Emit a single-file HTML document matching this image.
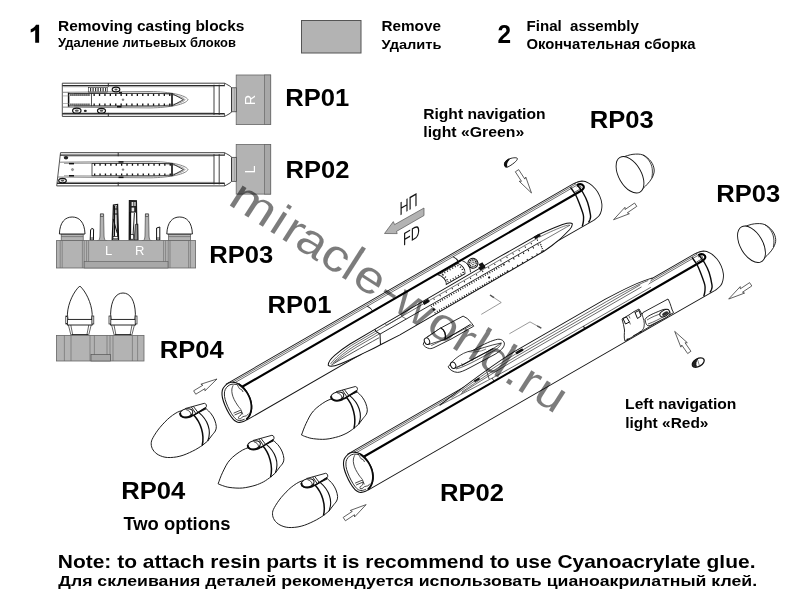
<!DOCTYPE html>
<html><head><meta charset="utf-8"><title>Assembly instructions</title>
<style>
html,body{margin:0;padding:0;background:#fff;}
body{width:800px;height:600px;overflow:hidden;font-family:"Liberation Sans",sans-serif;}
svg{display:block;font-family:"Liberation Sans",sans-serif;filter:grayscale(1);}
</style></head><body>
<svg width="800" height="600" viewBox="0 0 800 600">
<rect width="800" height="600" fill="#fff"/>
<path d="M39.1,24.7 L36,24.7 C35,26.8 32.8,28.5 30.7,29.3 L30.7,32.5 C32.6,31.9 34.2,30.9 35.2,29.9 L35.2,42.75 L39.1,42.75 Z" fill="#000" stroke="none" stroke-width="0" />
<text transform="translate(58.00,31.30) scale(1.0109,1)" font-size="15.3" font-weight="bold" fill="#000" xml:space="preserve">Removing casting blocks</text>
<text transform="translate(58.00,47.10) scale(0.9673,1)" font-size="13.4" font-weight="bold" fill="#000" xml:space="preserve">Удаление литьевых блоков</text>
<rect x="301.5" y="20.5" width="59.5" height="32.5" fill="#b3b3b3" stroke="#555" stroke-width="1"/>
<text transform="translate(381.50,31.20) scale(1.0195,1)" font-size="15" font-weight="bold" fill="#000" xml:space="preserve">Remove</text>
<text transform="translate(381.50,48.70) scale(1.0670,1)" font-size="13.7" font-weight="bold" fill="#000" xml:space="preserve">Удалить</text>
<text transform="translate(497.60,42.50) scale(0.9405,1)" font-size="26" font-weight="bold" fill="#000" xml:space="preserve">2</text>
<text transform="translate(526.50,30.50) scale(1.0206,1)" font-size="14.8" font-weight="bold" fill="#000" xml:space="preserve">Final  assembly</text>
<text transform="translate(526.50,49.20) scale(1.0319,1)" font-size="14.4" font-weight="bold" fill="#000" xml:space="preserve">Окончательная сборка</text>
<text transform="translate(285.35,105.70) scale(1.0443,1)" font-size="24.5" font-weight="bold" fill="#000" xml:space="preserve">RP01</text>
<text transform="translate(285.55,177.80) scale(1.0443,1)" font-size="24.5" font-weight="bold" fill="#000" xml:space="preserve">RP02</text>
<text transform="translate(209.30,263.00) scale(1.0443,1)" font-size="24.5" font-weight="bold" fill="#000" xml:space="preserve">RP03</text>
<text transform="translate(159.80,358.25) scale(1.0443,1)" font-size="24.5" font-weight="bold" fill="#000" xml:space="preserve">RP04</text>
<text transform="translate(267.55,313.25) scale(1.0443,1)" font-size="24.5" font-weight="bold" fill="#000" xml:space="preserve">RP01</text>
<text transform="translate(589.85,128.30) scale(1.0443,1)" font-size="24.5" font-weight="bold" fill="#000" xml:space="preserve">RP03</text>
<text transform="translate(716.35,201.75) scale(1.0443,1)" font-size="24.5" font-weight="bold" fill="#000" xml:space="preserve">RP03</text>
<text transform="translate(121.25,499.40) scale(1.0443,1)" font-size="24.5" font-weight="bold" fill="#000" xml:space="preserve">RP04</text>
<text transform="translate(439.95,501.25) scale(1.0443,1)" font-size="24.5" font-weight="bold" fill="#000" xml:space="preserve">RP02</text>
<text transform="translate(123.40,529.90) scale(1.0408,1)" font-size="17.7" font-weight="bold" fill="#000" xml:space="preserve">Two options</text>
<text transform="translate(423.20,118.60) scale(1.0630,1)" font-size="14.7" font-weight="bold" fill="#000" xml:space="preserve">Right navigation</text>
<text transform="translate(423.30,136.80) scale(1.0751,1)" font-size="14.7" font-weight="bold" fill="#000" xml:space="preserve">light «Green»</text>
<text transform="translate(625.10,408.60) scale(1.0656,1)" font-size="14.7" font-weight="bold" fill="#000" xml:space="preserve">Left navigation</text>
<text transform="translate(625.15,427.75) scale(1.0514,1)" font-size="14.7" font-weight="bold" fill="#000" xml:space="preserve">light «Red»</text>
<text transform="translate(57.80,568.40) scale(1.1852,1)" font-size="17.7" font-weight="bold" fill="#000" xml:space="preserve">Note: to attach resin parts it is recommend to use Cyanoacrylate glue.</text>
<text transform="translate(58.30,586.40) scale(1.1720,1)" font-size="15.1" font-weight="bold" fill="#000" xml:space="preserve">Для склеивания деталей рекомендуется использовать цианоакрилатный клей.</text>
<g>
<rect x="236.2" y="75.0" width="34.5" height="49.6" fill="#b3b3b3" stroke="#666" stroke-width="0.8"/>
<rect x="264.5" y="75.0" width="6.2" height="49.6" fill="#a8a8a8" stroke="#666" stroke-width="0.7"/>
<rect x="231.5" y="87.8" width="4.7" height="24" fill="#ddd" stroke="#2a2a2a" stroke-width="0.7"/>
<line x1="233.0" y1="87.8" x2="233.0" y2="111.8" stroke="#666" stroke-width="0.5" />
<line x1="234.6" y1="87.8" x2="234.6" y2="111.8" stroke="#666" stroke-width="0.5" />
<path d="M62.3,83.2 L224.5,83.2 L226.5,84.2 L230.5,86.5 L231.5,87.8 L231.5,111.8 L230.5,113.1 L226.5,115.4 L224.5,116.4 L62.3,116.4" fill="#fff" stroke="#2a2a2a" stroke-width="0.9" />
<line x1="62.3" y1="83.2" x2="62.3" y2="116.4" stroke="#2a2a2a" stroke-width="0.8" />
<line x1="62.3" y1="85.6" x2="224.5" y2="85.6" stroke="#2a2a2a" stroke-width="1.4" />
<line x1="62.3" y1="113.8" x2="224.5" y2="113.8" stroke="#2a2a2a" stroke-width="1.4" />
<line x1="63.3" y1="86.8" x2="214.0" y2="86.8" stroke="#777" stroke-width="0.5" />
<line x1="63.3" y1="112.8" x2="214.0" y2="112.8" stroke="#777" stroke-width="0.5" />
<line x1="214.0" y1="84.7" x2="214.0" y2="114.9" stroke="#2a2a2a" stroke-width="0.9" />
<line x1="219.2" y1="84.7" x2="219.2" y2="114.9" stroke="#2a2a2a" stroke-width="0.9" />
<line x1="224.5" y1="83.2" x2="224.5" y2="86.2" stroke="#2a2a2a" stroke-width="0.7" />
<line x1="224.5" y1="116.4" x2="224.5" y2="113.4" stroke="#2a2a2a" stroke-width="0.7" />
<line x1="108.3" y1="83.2" x2="108.3" y2="86.7" stroke="#2a2a2a" stroke-width="1" />
<line x1="108.3" y1="116.4" x2="108.3" y2="112.9" stroke="#2a2a2a" stroke-width="1" />
<path d="M62.6,92.3 L150,91.5 C170,91.7 186,95.2 188,99.7 C186,104.2 170,107.7 150,107.9 L62.6,107.1" fill="none" stroke="#777" stroke-width="0.9" />
<path d="M74.0,93.5 L150,93.1 C168,93.3 183,96.1 185,99.7 C183,103.3 168,106.1 150,106.3 L74.0,105.9" fill="none" stroke="#555" stroke-width="0.6" />
<rect x="91.5" y="93.5" width="80.5" height="12.4" fill="none" stroke="#2a2a2a" stroke-width="0.8"/>
<line x1="93.5" y1="94.8" x2="171.0" y2="94.8" stroke="#111" stroke-width="2.2" stroke-dasharray="1.3 4.1"/>
<line x1="93.5" y1="104.6" x2="171.0" y2="104.6" stroke="#111" stroke-width="2.2" stroke-dasharray="1.3 4.1"/>
<path d="M172,93.5 L183.5,99.7 L172,105.9 Z" fill="none" stroke="#2a2a2a" stroke-width="0.9" />
<line x1="172.0" y1="93.5" x2="172.0" y2="105.9" stroke="#2a2a2a" stroke-width="1.5" />
<circle cx="123" cy="99.7" r="0.9" fill="#888" stroke="#444" stroke-width="0.4"/>
<path d="M68.6,93.5 L91.5,93.5 M68.6,105.9 L91.5,105.9" fill="none" stroke="#2a2a2a" stroke-width="0.8" />
<line x1="68.6" y1="92.7" x2="68.6" y2="106.7" stroke="#111" stroke-width="1.5" />
<line x1="70.4" y1="94.9" x2="90.5" y2="94.9" stroke="#111" stroke-width="2.2" stroke-dasharray="1.1 0.9"/>
<line x1="70.4" y1="104.5" x2="90.5" y2="104.5" stroke="#111" stroke-width="2.2" stroke-dasharray="1.1 0.9"/>
<line x1="62.5" y1="95.9" x2="68.6" y2="95.9" stroke="#888" stroke-width="0.6" />
<line x1="62.5" y1="103.5" x2="68.6" y2="103.5" stroke="#888" stroke-width="0.6" />
<rect x="88.5" y="87.5" width="19" height="4.6" fill="none" stroke="#2a2a2a" stroke-width="0.6"/>
<line x1="90.0" y1="89.8" x2="107.0" y2="89.8" stroke="#333" stroke-width="3.6" stroke-dasharray="1.2 1.3"/>
<ellipse cx="116" cy="89.5" rx="3.8" ry="2.3" fill="#fff" stroke="#111" stroke-width="1.2"/>
<ellipse cx="116" cy="89.5" rx="1.6" ry="1" fill="#555"/>
<ellipse cx="76.8" cy="110.7" rx="4.2" ry="2.5" fill="#fff" stroke="#111" stroke-width="1.2"/>
<ellipse cx="76.8" cy="110.7" rx="2" ry="1.1" fill="#555"/>
<ellipse cx="101.5" cy="110.7" rx="4" ry="2.4" fill="#fff" stroke="#111" stroke-width="1.2"/>
<ellipse cx="101.5" cy="110.7" rx="1.8" ry="1.1" fill="#555"/>
<ellipse cx="85.3" cy="110.9" rx="1.5" ry="1.1" fill="#222"/>
<rect x="117" y="105.9" width="4.5" height="1.6" fill="#111"/>
<rect x="119" y="92.1" width="3" height="1.4" fill="#111"/>
<text transform="translate(255.0,100.0) rotate(-90)" font-size="14.6" fill="#fff" text-anchor="middle" font-weight="normal">R</text>
</g>
<g>
<rect x="236.2" y="144.5" width="34.5" height="49.6" fill="#b3b3b3" stroke="#666" stroke-width="0.8"/>
<rect x="264.5" y="144.5" width="6.2" height="49.6" fill="#a8a8a8" stroke="#666" stroke-width="0.7"/>
<rect x="231.5" y="157.3" width="4.7" height="24" fill="#ddd" stroke="#2a2a2a" stroke-width="0.7"/>
<line x1="233.0" y1="157.3" x2="233.0" y2="181.3" stroke="#666" stroke-width="0.5" />
<line x1="234.6" y1="157.3" x2="234.6" y2="181.3" stroke="#666" stroke-width="0.5" />
<path d="M60.5,152.7 L224.5,152.7 L226.5,153.7 L230.5,156.0 L231.5,157.3 L231.5,181.3 L230.5,182.6 L226.5,184.9 L224.5,185.9 L56.7,185.9" fill="#fff" stroke="#2a2a2a" stroke-width="0.9" />
<line x1="60.5" y1="152.7" x2="56.7" y2="185.9" stroke="#2a2a2a" stroke-width="0.8" />
<line x1="60.0" y1="155.1" x2="224.5" y2="155.1" stroke="#2a2a2a" stroke-width="1.4" />
<line x1="57.0" y1="183.3" x2="224.5" y2="183.3" stroke="#2a2a2a" stroke-width="1.4" />
<line x1="63.3" y1="156.3" x2="214.0" y2="156.3" stroke="#777" stroke-width="0.5" />
<line x1="63.3" y1="182.3" x2="214.0" y2="182.3" stroke="#777" stroke-width="0.5" />
<line x1="214.0" y1="154.2" x2="214.0" y2="184.4" stroke="#2a2a2a" stroke-width="0.9" />
<line x1="219.2" y1="154.2" x2="219.2" y2="184.4" stroke="#2a2a2a" stroke-width="0.9" />
<line x1="224.5" y1="152.7" x2="224.5" y2="155.7" stroke="#2a2a2a" stroke-width="0.7" />
<line x1="224.5" y1="185.9" x2="224.5" y2="182.9" stroke="#2a2a2a" stroke-width="0.7" />
<line x1="118.2" y1="152.7" x2="118.2" y2="156.2" stroke="#2a2a2a" stroke-width="1" />
<line x1="118.2" y1="185.9" x2="118.2" y2="182.4" stroke="#2a2a2a" stroke-width="1" />
<path d="M59.4,162.2 L150,161.4 C170,161.6 186,165.1 188,169.6 C186,174.1 170,177.6 150,177.8 L58.0,177.0" fill="none" stroke="#777" stroke-width="0.9" />
<path d="M64.0,163.4 L150,163.0 C168,163.2 183,166.0 185,169.6 C183,173.2 168,176.0 150,176.2 L64.0,175.8" fill="none" stroke="#555" stroke-width="0.6" />
<rect x="92.0" y="163.4" width="80.0" height="12.4" fill="none" stroke="#2a2a2a" stroke-width="0.8"/>
<line x1="94.0" y1="164.7" x2="171.0" y2="164.7" stroke="#111" stroke-width="2.2" stroke-dasharray="1.3 4.1"/>
<line x1="94.0" y1="174.5" x2="171.0" y2="174.5" stroke="#111" stroke-width="2.2" stroke-dasharray="1.3 4.1"/>
<path d="M172,163.4 L183.5,169.6 L172,175.8 Z" fill="none" stroke="#2a2a2a" stroke-width="0.9" />
<line x1="172.0" y1="163.4" x2="172.0" y2="175.8" stroke="#2a2a2a" stroke-width="1.5" />
<circle cx="123" cy="169.6" r="0.9" fill="#888" stroke="#444" stroke-width="0.4"/>
<circle cx="72.5" cy="169.6" r="1.1" fill="#999" stroke="#444" stroke-width="0.4"/>
<ellipse cx="66" cy="157.7" rx="2.2" ry="1.8" fill="#222"/>
<ellipse cx="62.5" cy="180.6" rx="3.8" ry="2.3" fill="#fff" stroke="#111" stroke-width="1.2"/>
<ellipse cx="62.5" cy="180.6" rx="1.8" ry="1.1" fill="#555"/>
<rect x="69" y="162.9" width="5" height="1.5" fill="#111"/>
<rect x="69" y="175.0" width="5" height="1.5" fill="#111"/>
<rect x="118.5" y="161.2" width="5" height="1.5" fill="#111"/>
<rect x="118.5" y="176.6" width="5" height="1.5" fill="#111"/>
<text transform="translate(255.0,169.5) rotate(-90)" font-size="14.6" fill="#fff" text-anchor="middle" font-weight="normal">L</text>
</g>
<g>
<path d="M96.6,241.2 C99.4,240.6 99.8,239 100.0,236 L100.4,214.0 L103.6,214.0 L104.0,236 C104.2,239 104.6,240.6 107.4,241.2 Z" fill="#b3b3b3" stroke="#555" stroke-width="0.8" />
<rect x="100.4" y="214.0" width="3.2" height="2.6" fill="#c4c4c4" stroke="#444" stroke-width="0.7"/>
<path d="M141.6,241.2 C144.4,240.6 144.8,239 145.0,236 L145.4,214.0 L148.6,214.0 L149.0,236 C149.2,239 149.6,240.6 152.4,241.2 Z" fill="#b3b3b3" stroke="#555" stroke-width="0.8" />
<rect x="145.4" y="214.0" width="3.2" height="2.6" fill="#c4c4c4" stroke="#444" stroke-width="0.7"/>
<path d="M90.2,240 L90.6,230 L91.8,228.4 L93.6,229.2 L93.4,240 Z" fill="#fff" stroke="#111" stroke-width="1.0" />
<line x1="90.2" y1="238.0" x2="93.4" y2="238.0" stroke="#111" stroke-width="0.8" />
<path d="M156.6,240 L156.6,228 L159.8,227 L159.8,240 Z" fill="#fff" stroke="#111" stroke-width="1.0" />
<line x1="156.6" y1="238.0" x2="159.8" y2="238.0" stroke="#111" stroke-width="0.8" />
<path d="M112.2,240 L113,219 L113.4,205 L117.6,204.4 L118.6,240 Z" fill="#fff" stroke="#111" stroke-width="1.2" />
<line x1="114.6" y1="205.6" x2="114.3" y2="238.0" stroke="#111" stroke-width="1.5" />
<line x1="117.0" y1="206.0" x2="117.7" y2="238.0" stroke="#222" stroke-width="1.3" />
<path d="M113.2,219 L117.2,233 M113.6,209 L117.4,209 M113.4,214 L117.4,214" fill="none" stroke="#111" stroke-width="1.0" />
<rect x="113" y="236.4" width="5" height="2.4" fill="#fff" stroke="#111" stroke-width="0.7"/>
<path d="M129.2,240 L129.4,200.6 L136.4,200.8 L136.8,224 L137.6,224.2 L137.8,240 Z" fill="#fff" stroke="#111" stroke-width="1.2" />
<rect x="129.4" y="200.6" width="7.2" height="12" fill="#222"/>
<rect x="131.6" y="202" width="1.8" height="4" fill="#ddd"/><rect x="134.2" y="202" width="1.5" height="4" fill="#ccc"/><rect x="131.6" y="207.6" width="2.6" height="3.8" fill="#e8e8e8"/>
<line x1="130.2" y1="212.0" x2="130.2" y2="239.4" stroke="#111" stroke-width="1.9" />
<path d="M134.2,240 L135.4,224.4 L137.6,224.4 L137.8,240 Z" fill="#8c8c8c" stroke="#222" stroke-width="0.8" />
<path d="M134.4,213 L133,236" fill="none" stroke="#222" stroke-width="1.0" />
<rect x="130.6" y="234.6" width="3" height="4.6" fill="#fff" stroke="#111" stroke-width="0.7"/>
<rect x="61.2" y="234" width="22.0" height="7" fill="#b3b3b3" stroke="#555" stroke-width="0.7"/>
<line x1="61.2" y1="236.6" x2="83.2" y2="236.6" stroke="#555" stroke-width="0.6" />
<rect x="168.6" y="234" width="22.0" height="7" fill="#b3b3b3" stroke="#555" stroke-width="0.7"/>
<line x1="168.6" y1="236.6" x2="190.6" y2="236.6" stroke="#555" stroke-width="0.6" />
<rect x="56.4" y="240.6" width="139.2" height="27.4" fill="#b3b3b3" stroke="#666" stroke-width="0.8"/>
<line x1="60.2" y1="240.6" x2="60.2" y2="268.0" stroke="#666" stroke-width="0.6" />
<line x1="62.2" y1="240.6" x2="62.2" y2="268.0" stroke="#666" stroke-width="0.6" />
<line x1="82.4" y1="240.6" x2="82.4" y2="268.0" stroke="#666" stroke-width="0.6" />
<line x1="84.2" y1="240.6" x2="84.2" y2="268.0" stroke="#666" stroke-width="0.6" />
<line x1="86.6" y1="240.6" x2="86.6" y2="268.0" stroke="#666" stroke-width="0.6" />
<line x1="88.6" y1="240.6" x2="88.6" y2="268.0" stroke="#666" stroke-width="0.6" />
<line x1="163.6" y1="240.6" x2="163.6" y2="268.0" stroke="#666" stroke-width="0.6" />
<line x1="165.6" y1="240.6" x2="165.6" y2="268.0" stroke="#666" stroke-width="0.6" />
<line x1="168.2" y1="240.6" x2="168.2" y2="268.0" stroke="#666" stroke-width="0.6" />
<line x1="170.0" y1="240.6" x2="170.0" y2="268.0" stroke="#666" stroke-width="0.6" />
<line x1="188.6" y1="240.6" x2="188.6" y2="268.0" stroke="#666" stroke-width="0.6" />
<line x1="190.4" y1="240.6" x2="190.4" y2="268.0" stroke="#666" stroke-width="0.6" />
<rect x="84.2" y="261.6" width="83.8" height="6.4" fill="#a8a8a8" stroke="#666" stroke-width="0.7"/>
<path d="M59.4,234 C59.8,222 65.2,217 72.2,217 C79.2,217 84.6,222 85.0,234 Z" fill="#fff" stroke="#111" stroke-width="0.9" />
<path d="M166.8,234 C167.2,222 172.6,217 179.6,217 C186.6,217 192.0,222 192.4,234 Z" fill="#fff" stroke="#111" stroke-width="0.9" />
<text x="105.0" y="255.4" font-size="13" font-weight="normal" fill="#fff" >L</text>
<text x="135.0" y="255.4" font-size="13" font-weight="normal" fill="#fff" >R</text>
</g>
<g>
<path d="M68.4,325 L71.0,335.4 M70.8,325 L72.8,335.4 M91.2,325 L88.6,335.4 M88.8,325 L86.8,335.4" fill="none" stroke="#222" stroke-width="0.7" />
<line x1="71.4" y1="334.6" x2="88.2" y2="334.6" stroke="#222" stroke-width="1" />
<path d="M111.6,325 L114.2,335.4 M114.0,325 L116.0,335.4 M134.4,325 L131.8,335.4 M132.0,325 L130.0,335.4" fill="none" stroke="#222" stroke-width="0.7" />
<line x1="114.6" y1="334.6" x2="131.4" y2="334.6" stroke="#222" stroke-width="1" />
<rect x="56.4" y="335.4" width="87.6" height="25.6" fill="#b3b3b3" stroke="#666" stroke-width="0.8"/>
<line x1="64.4" y1="335.4" x2="64.4" y2="361.0" stroke="#666" stroke-width="0.6" />
<line x1="71.0" y1="335.4" x2="71.0" y2="361.0" stroke="#666" stroke-width="0.6" />
<line x1="90.0" y1="335.4" x2="90.0" y2="361.0" stroke="#666" stroke-width="0.6" />
<line x1="94.4" y1="335.4" x2="94.4" y2="361.0" stroke="#666" stroke-width="0.6" />
<line x1="107.0" y1="335.4" x2="107.0" y2="361.0" stroke="#666" stroke-width="0.6" />
<line x1="110.0" y1="335.4" x2="110.0" y2="361.0" stroke="#666" stroke-width="0.6" />
<line x1="113.0" y1="335.4" x2="113.0" y2="361.0" stroke="#666" stroke-width="0.6" />
<line x1="132.4" y1="335.4" x2="132.4" y2="361.0" stroke="#666" stroke-width="0.6" />
<line x1="137.6" y1="335.4" x2="137.6" y2="361.0" stroke="#666" stroke-width="0.6" />
<rect x="91" y="354.6" width="19.4" height="6.4" fill="#a8a8a8" stroke="#555" stroke-width="0.7"/>
<path d="M67.4,314 C68,303 74,291 79.8,286 C85.6,291 91.6,303 92.2,314" fill="#fff" stroke="#111" stroke-width="0.9" />
<path d="M110.6,314 C111,300 116,293 123,293 C130,293 135,300 135.4,314" fill="#fff" stroke="#111" stroke-width="0.9" />
<rect x="67.4" y="319.4" width="24.8" height="5.6" fill="#fff" stroke="#111" stroke-width="0.9"/>
<path d="M67.4,314 L68.0,319.4 M92.2,314 L91.6,319.4" fill="none" stroke="#111" stroke-width="0.8" />
<rect x="65.8" y="316" width="1.8" height="8" fill="#fff" stroke="#111" stroke-width="0.7"/>
<rect x="92.0" y="316" width="1.8" height="8" fill="#fff" stroke="#111" stroke-width="0.7"/>
<rect x="110.6" y="319.4" width="24.8" height="5.6" fill="#fff" stroke="#111" stroke-width="0.9"/>
<path d="M110.6,314 L111.2,319.4 M135.4,314 L134.8,319.4" fill="none" stroke="#111" stroke-width="0.8" />
<rect x="109.0" y="316" width="1.8" height="8" fill="#fff" stroke="#111" stroke-width="0.7"/>
<rect x="135.2" y="316" width="1.8" height="8" fill="#fff" stroke="#111" stroke-width="0.7"/>
</g>
<g transform="translate(236.6,402.0) rotate(-30)">
<path d="M0,-20.7 L401,-20.6 C402.4,-20.3 407.2,-20.0 409.5,-18.7 C411.8,-17.4 413.3,-15.3 414.6,-13.0 C415.9,-10.7 416.8,-7.7 417.3,-5.0 C417.8,-2.3 417.8,0.3 417.5,3.0 C417.2,5.7 416.4,8.7 415.4,11.0 C414.4,13.3 413.0,15.1 411.6,16.6 C410.2,18.1 408.9,19.2 407.0,20.0 C405.1,20.8 401.2,21.0 400.0,21.2 L330,20.9 L0,20.7 Z" fill="#fff" stroke="#151515" stroke-width="0.9" />
<line x1="3.0" y1="-19.2" x2="403.0" y2="-19.2" stroke="#222" stroke-width="0.6" />
<line x1="3.0" y1="-17.6" x2="403.0" y2="-17.6" stroke="#222" stroke-width="0.6" />
<path d="M10.5,-10.4 L403,-10.7 C407,-10.7 408.6,-12 408.4,-14 C408,-16.6 406,-17.6 403,-17.6" fill="none" stroke="#000" stroke-width="2.1" />
<path d="M398,-12.6 L402,-12.6 C405,-12.8 406,-13.4 405.8,-14.6 C405.4,-16 404,-16.2 402,-16.2" fill="none" stroke="#222" stroke-width="0.7" />
<path d="M401,-20.6 C405,-20.4 408,-19.4 410,-17.8" fill="none" stroke="#222" stroke-width="0.6" />
<path d="M396.5,-19.0 C396.6,-17.5 397.2,-12.9 397.2,-10.0 C397.1,-7.1 396.8,-5.1 396.2,-1.5 C395.6,2.1 394.7,8.2 393.8,11.3 C392.9,14.4 391.7,15.4 390.6,17.0 C389.5,18.6 387.8,20.1 387.2,20.7" fill="none" stroke="#0a0a0a" stroke-width="1.4" />
<path d="M403.6,-17.4 C403.8,-15.8 404.6,-11.4 404.6,-8.0 C404.6,-4.6 404.5,-1.0 403.7,2.8 C402.9,6.6 401.0,12.3 400.0,14.9 C399.0,17.5 398.5,17.4 397.6,18.4 C396.7,19.3 395.0,20.2 394.5,20.6" fill="none" stroke="#0a0a0a" stroke-width="1.4" />
<path d="M161.0,-17.7 Q163.6,-14.0 163.2,-10.4" fill="none" stroke="#111" stroke-width="0.9" />
<path d="M260.0,-17.7 Q262.6,-14.0 262.2,-10.4" fill="none" stroke="#111" stroke-width="0.9" />
</g>
<g transform="translate(236.6,402.0) rotate(-30)">
<path d="M97.7,14.2 C99,11 104,9.4 108.7,8.5 C115,7.4 121,6.8 127.2,6.5 L156,6.2 L300,5.7 L344.5,6.1 C356,6.8 366,8.4 371,9.2 C376,10.4 379.4,11.8 379.9,13.25 C379.4,15 377,16.4 374.4,17.3 C366,20 358,21.6 351.4,22.2 L342,23.1 L175,23.5 L152.7,22.3 C145,22 137,21.4 130.4,21 C122,20.4 114,19.6 108.5,18.8 C103,18 98.5,16.6 97.7,14.2 Z" fill="#fff" stroke="#111" stroke-width="1.0" />
<path d="M100.4,14 C107,11 118,9 128,8.4 L156,8.2" fill="none" stroke="#222" stroke-width="0.6" />
<path d="M102.6,14.4 C110,12.4 120,10.8 130,10.4 L157,10.2" fill="none" stroke="#222" stroke-width="0.6" />
<path d="M104.6,14.8 C112,13.6 122,12.6 132,12.4 L158,12.4" fill="none" stroke="#222" stroke-width="0.6" />
<path d="M100.4,15.4 C115,15 135,15.2 155.6,15.6" fill="none" stroke="#222" stroke-width="0.7" />
<path d="M156,6.2 L156,8.65 L158.2,12.8 L153.1,22.6" fill="none" stroke="#111" stroke-width="1.0" />
<line x1="156.0" y1="8.6" x2="216.0" y2="8.4" stroke="#222" stroke-width="0.6" />
<line x1="158.2" y1="12.9" x2="342.0" y2="13.3" stroke="#111" stroke-width="0.8" />
<line x1="216.0" y1="8.4" x2="343.0" y2="8.6" stroke="#333" stroke-width="0.6" />
<path d="M168,6.2 L168,8.6 L186,8.6 L186,6.2 M186,8.6 L188.4,12.9" fill="none" stroke="#333" stroke-width="0.6" />
<rect x="211" y="6.4" width="6.4" height="3.4" fill="#111"/>
<rect x="276.6" y="4.4" width="6.4" height="3.6" fill="#111"/>
<rect x="340" y="5.4" width="6.4" height="3" fill="#111"/>
<line x1="216.0" y1="14.5" x2="300.0" y2="14.6" stroke="#111" stroke-width="1.6" stroke-dasharray="0.9 1.7"/>
<line x1="216.0" y1="22.0" x2="300.0" y2="22.2" stroke="#111" stroke-width="1.6" stroke-dasharray="0.9 1.7"/>
<line x1="300.0" y1="14.6" x2="342.0" y2="14.7" stroke="#111" stroke-width="1.7" stroke-dasharray="1 4.6"/>
<line x1="300.0" y1="22.2" x2="342.0" y2="22.3" stroke="#111" stroke-width="1.7" stroke-dasharray="1 4.6"/>
<line x1="222.0" y1="9.6" x2="343.0" y2="10.2" stroke="#111" stroke-width="1.5" stroke-dasharray="0.9 6.1"/>
<line x1="342.4" y1="13.3" x2="341.0" y2="23.1" stroke="#111" stroke-width="1.3" stroke-dasharray="1 1.1"/>
<circle cx="217" cy="18.4" r="1.2" fill="#111"/>
<circle cx="281" cy="18.4" r="1.1" fill="#111"/>
<path d="M344.5,8.6 C356,9.2 366,10.6 371,11.4 C374,12 376.4,12.8 377,13.6 M342.4,13.3 C352,13.6 368,13.4 377,13.6" fill="none" stroke="#333" stroke-width="0.6" />
<path d="M238,-9.4 L261,-9.4 C264,-6 264.6,0 262,3 L240.4,3 C242.6,0 242,-6 238,-9.4 Z" fill="#fff" stroke="#111" stroke-width="0.9" />
<path d="M241.6,-7.9 L259.6,-7.9 C262,-5 262.4,-0.6 260.6,1.5 L242.6,1.5 C244,-1 243.6,-5 241.6,-7.9 Z" fill="none" stroke="#111" stroke-width="1.6" stroke-dasharray="0.9 2.1"/>
<path d="M266,-9.4 C269.4,-6 270,0 267.4,4.6" fill="none" stroke="#111" stroke-width="0.8" />
<circle cx="274" cy="-2" r="5" fill="#fff" stroke="#111" stroke-width="1"/>
<circle cx="274" cy="-2" r="3.4" fill="none" stroke="#111" stroke-width="1.7" stroke-dasharray="1 0.8"/>
<circle cx="274" cy="-2" r="1.3" fill="none" stroke="#111" stroke-width="0.9" stroke-dasharray="0.7 0.6"/>
<rect x="278.4" y="1.8" width="4.4" height="3" fill="#111"/>
</g>
<g transform="translate(0.0,0.0)">
<path d="M231.0,382.2 C229.4,382.5 227.8,383.2 226.5,384.3 C225.2,385.4 223.8,387.2 223.0,388.6 C222.2,390.0 222.1,391.1 222.0,392.7 C221.9,394.3 222.0,395.9 222.5,398.0 C223.0,400.1 223.9,402.9 225.0,405.5 C226.1,408.1 227.6,411.1 229.0,413.5 C230.4,415.9 232.2,418.2 233.5,419.6 C234.8,421.0 236.0,421.5 237.0,422.0 C238.0,422.5 238.5,422.5 239.6,422.4 C240.7,422.3 242.2,422.1 243.4,421.6 C244.6,421.1 245.9,420.4 247.0,419.3 C248.1,418.2 249.4,416.8 250.2,415.0 C251.0,413.2 251.6,410.7 251.8,408.5 C252.0,406.3 251.6,404.0 251.2,402.0 C250.8,400.0 250.2,398.6 249.3,396.6 C248.4,394.6 247.0,391.9 245.6,390.0 C244.2,388.1 242.6,386.5 241.0,385.3 C239.4,384.1 237.7,383.2 236.0,382.7 C234.3,382.2 232.6,382.0 231.0,382.2Z" fill="#fff" stroke="#111" stroke-width="1.1" />
<path d="M237.4,384.6 C236.5,384.5 233.6,384.0 232.0,384.2 C230.4,384.4 229.1,385.1 228.0,386.0 C226.9,386.9 225.8,388.3 225.2,389.6 C224.6,390.9 224.4,392.3 224.4,394.0 C224.4,395.7 224.6,397.5 225.2,399.6 C225.8,401.7 226.8,404.3 227.8,406.6 C228.8,408.9 230.2,411.4 231.4,413.4 C232.6,415.4 234.1,417.3 235.2,418.4 C236.3,419.5 237.0,419.9 238.0,420.2 C239.0,420.5 239.9,420.6 241.0,420.4 C242.1,420.2 244.0,419.4 244.6,419.2" fill="none" stroke="#111" stroke-width="0.9" />
<path d="M238.6,384.0 C239.4,384.7 242.1,386.8 243.6,388.4 C245.1,390.0 246.5,391.7 247.6,393.6 C248.7,395.5 249.8,397.9 250.4,400.0 C251.0,402.1 251.3,404.1 251.4,406.0 C251.5,407.9 251.2,409.9 250.8,411.6 C250.4,413.3 249.5,415.1 248.8,416.4 C248.1,417.7 246.8,418.7 246.4,419.2" fill="none" stroke="#0a0a0a" stroke-width="1.7" />
<path d="M233.2,385.2 C233.0,385.8 232.1,387.5 231.9,389.0 C231.7,390.5 231.8,392.2 232.2,394.0 C232.6,395.8 233.3,397.8 234.2,399.6 C235.1,401.4 236.3,403.3 237.4,405.0 C238.5,406.7 240.4,408.8 241.0,409.6" fill="none" stroke="#1a1a1a" stroke-width="0.8" />
<path d="M236.6,383.6 C236.9,384.1 237.7,385.6 238.2,386.4 C238.7,387.2 238.8,388.0 239.4,388.6 C240.0,389.2 241.2,389.2 241.8,389.8 C242.4,390.4 242.8,391.6 243.0,392.0" fill="none" stroke="#1a1a1a" stroke-width="0.8" />
<path d="M233.6,413.2 L241,410 L242.8,414.4 M234.6,415 L241.6,412" fill="none" stroke="#1a1a1a" stroke-width="0.8" />
<path d="M241.6,412.0 C241.5,412.5 241.5,414.2 241.0,415.0 C240.5,415.8 239.2,416.0 238.8,416.6 C238.4,417.2 238.3,418.1 238.6,418.4 C238.9,418.7 239.9,418.9 240.6,418.6 C241.3,418.3 242.0,417.1 243.0,416.6 C244.0,416.1 245.5,416.3 246.4,415.8 C247.3,415.3 248.2,414.0 248.6,413.6" fill="none" stroke="#1a1a1a" stroke-width="0.8" />
</g>
<g transform="translate(358.1,472.0) rotate(-30)">
<path d="M0,-20.7 L401,-20.6 C402.4,-20.3 407.2,-20.0 409.5,-18.7 C411.8,-17.4 413.3,-15.3 414.6,-13.0 C415.9,-10.7 416.8,-7.7 417.3,-5.0 C417.8,-2.3 417.8,0.3 417.5,3.0 C417.2,5.7 416.4,8.7 415.4,11.0 C414.4,13.3 413.0,15.1 411.6,16.6 C410.2,18.1 408.9,19.2 407.0,20.0 C405.1,20.8 401.2,21.0 400.0,21.2 L330,20.9 L0,20.7 Z" fill="#fff" stroke="#151515" stroke-width="0.9" />
<line x1="3.0" y1="-19.2" x2="403.0" y2="-19.2" stroke="#222" stroke-width="0.6" />
<line x1="3.0" y1="-17.6" x2="403.0" y2="-17.6" stroke="#222" stroke-width="0.6" />
<path d="M10.5,-10.4 L403,-10.7 C407,-10.7 408.6,-12 408.4,-14 C408,-16.6 406,-17.6 403,-17.6" fill="none" stroke="#000" stroke-width="2.1" />
<path d="M398,-12.6 L402,-12.6 C405,-12.8 406,-13.4 405.8,-14.6 C405.4,-16 404,-16.2 402,-16.2" fill="none" stroke="#222" stroke-width="0.7" />
<path d="M401,-20.6 C405,-20.4 408,-19.4 410,-17.8" fill="none" stroke="#222" stroke-width="0.6" />
<path d="M396.5,-19.0 C396.6,-17.5 397.2,-12.9 397.2,-10.0 C397.1,-7.1 396.8,-5.1 396.2,-1.5 C395.6,2.1 394.7,8.2 393.8,11.3 C392.9,14.4 391.7,15.4 390.6,17.0 C389.5,18.6 387.8,20.1 387.2,20.7" fill="none" stroke="#0a0a0a" stroke-width="1.4" />
<path d="M403.6,-17.4 C403.8,-15.8 404.6,-11.4 404.6,-8.0 C404.6,-4.6 404.5,-1.0 403.7,2.8 C402.9,6.6 401.0,12.3 400.0,14.9 C399.0,17.5 398.5,17.4 397.6,18.4 C396.7,19.3 395.0,20.2 394.5,20.6" fill="none" stroke="#0a0a0a" stroke-width="1.4" />
<path d="M161.0,-17.7 Q163.6,-14.0 163.2,-10.4" fill="none" stroke="#111" stroke-width="0.9" />
<path d="M266.0,-17.7 Q268.6,-14.0 268.2,-10.4" fill="none" stroke="#111" stroke-width="0.9" />
</g>
<g transform="translate(358.1,472.0) rotate(-30)">
<path d="M104,-17 C130,-20 160,-25 195,-26.2 L300,-26 C320,-25.6 340,-24 351,-21.6 C348,-17.6 340,-14.4 330,-13.6 L195,-13.6 C160,-14 130,-15.6 104,-17 Z" fill="#fff" stroke="none" stroke-width="0" />
<path d="M104,-17 C130,-20 160,-25 195,-26.2 L300,-26 C320,-25.6 340,-24 352,-21" fill="none" stroke="#111" stroke-width="0.9" />
<path d="M104,-17 C130,-15.6 160,-14 195,-13.6 L346,-13.6" fill="none" stroke="#222" stroke-width="0.6" />
<path d="M118,-17.6 C140,-20 165,-22.8 195,-23.4 L300,-23.4 C320,-23.2 338,-22.4 347,-20.8" fill="none" stroke="#222" stroke-width="0.6" />
<path d="M130,-17.4 C150,-19 170,-20.6 195,-21 L338,-21" fill="none" stroke="#222" stroke-width="0.6" />
<path d="M128,-16.4 C150,-17.6 170,-18.4 195,-18.6 L338,-18.6" fill="none" stroke="#222" stroke-width="0.6" />
<path d="M160,-15 L162,-24" fill="none" stroke="#222" stroke-width="0.7" />
<rect x="146" y="-21.4" width="6" height="2" fill="#111"/>
<rect x="196" y="-25" width="8" height="2.6" fill="#111"/>
</g>
<g transform="translate(0.0,0.0)">
<path d="M625,341.2 C623.6,337 624.6,333 624.5,330 C624,326 623,322.5 622,319 L628.6,315.2 L634,311.6 L639,309 L642,314.6 L643,312.5 L668,299 C669.6,301.6 670.6,305 672.2,310 L673.6,312.6 Z" fill="#fff" stroke="#111" stroke-width="0.9" />
<path d="M623,318.5 L626.5,317 L629.5,322 L625.5,324 Z" fill="#fff" stroke="#111" stroke-width="1.0" />
<path d="M635,312.5 L639,310.5 L641,316 L637.5,318.5 Z" fill="#fff" stroke="#111" stroke-width="1.0" />
<path d="M629.5,322 L630.4,324.4 M628.6,315.2 L630,318.4 M634,311.6 L635,312.6" fill="none" stroke="#222" stroke-width="0.7" />
<path d="M642,314.6 C643.4,318 645,323 644,327 C643.4,329.6 641.6,331 640,332" fill="none" stroke="#111" stroke-width="0.8" />
<path d="M645,319.4 C647,316 653,313.6 662,310 C665,308.6 669,309.4 670,312 C670.6,314 669,316 666,317.6 L650,325.6 C647,326.6 645.6,324 645,319.4 Z" fill="#fff" stroke="#111" stroke-width="0.9" />
<path d="M647,320 C652,316.6 658,315 661,313.4 M648,324 C654,322 660,318.6 664,316.4" fill="none" stroke="#222" stroke-width="0.7" />
<ellipse cx="664.6" cy="313.2" rx="5.2" ry="2.9" transform="rotate(-30 664.6 313.2)" fill="#fff" stroke="#111" stroke-width="1"/>
<ellipse cx="665.2" cy="313.6" rx="3.4" ry="1.7" transform="rotate(-30 665.2 313.6)" fill="#333"/>
<path d="M640,332 L633,336 M627,340 L629.4,338.4" fill="none" stroke="#111" stroke-width="0.8" />
<circle cx="627.4" cy="339.4" r="0.9" fill="#111"/><circle cx="640.6" cy="331.8" r="0.9" fill="#111"/>
</g>
<g transform="translate(121.5,70.0)">
<path d="M231.0,382.2 C229.4,382.5 227.8,383.2 226.5,384.3 C225.2,385.4 223.8,387.2 223.0,388.6 C222.2,390.0 222.1,391.1 222.0,392.7 C221.9,394.3 222.0,395.9 222.5,398.0 C223.0,400.1 223.9,402.9 225.0,405.5 C226.1,408.1 227.6,411.1 229.0,413.5 C230.4,415.9 232.2,418.2 233.5,419.6 C234.8,421.0 236.0,421.5 237.0,422.0 C238.0,422.5 238.5,422.5 239.6,422.4 C240.7,422.3 242.2,422.1 243.4,421.6 C244.6,421.1 245.9,420.4 247.0,419.3 C248.1,418.2 249.4,416.8 250.2,415.0 C251.0,413.2 251.6,410.7 251.8,408.5 C252.0,406.3 251.6,404.0 251.2,402.0 C250.8,400.0 250.2,398.6 249.3,396.6 C248.4,394.6 247.0,391.9 245.6,390.0 C244.2,388.1 242.6,386.5 241.0,385.3 C239.4,384.1 237.7,383.2 236.0,382.7 C234.3,382.2 232.6,382.0 231.0,382.2Z" fill="#fff" stroke="#111" stroke-width="1.1" />
<path d="M237.4,384.6 C236.5,384.5 233.6,384.0 232.0,384.2 C230.4,384.4 229.1,385.1 228.0,386.0 C226.9,386.9 225.8,388.3 225.2,389.6 C224.6,390.9 224.4,392.3 224.4,394.0 C224.4,395.7 224.6,397.5 225.2,399.6 C225.8,401.7 226.8,404.3 227.8,406.6 C228.8,408.9 230.2,411.4 231.4,413.4 C232.6,415.4 234.1,417.3 235.2,418.4 C236.3,419.5 237.0,419.9 238.0,420.2 C239.0,420.5 239.9,420.6 241.0,420.4 C242.1,420.2 244.0,419.4 244.6,419.2" fill="none" stroke="#111" stroke-width="0.9" />
<path d="M238.6,384.0 C239.4,384.7 242.1,386.8 243.6,388.4 C245.1,390.0 246.5,391.7 247.6,393.6 C248.7,395.5 249.8,397.9 250.4,400.0 C251.0,402.1 251.3,404.1 251.4,406.0 C251.5,407.9 251.2,409.9 250.8,411.6 C250.4,413.3 249.5,415.1 248.8,416.4 C248.1,417.7 246.8,418.7 246.4,419.2" fill="none" stroke="#0a0a0a" stroke-width="1.7" />
<path d="M233.2,385.2 C233.0,385.8 232.1,387.5 231.9,389.0 C231.7,390.5 231.8,392.2 232.2,394.0 C232.6,395.8 233.3,397.8 234.2,399.6 C235.1,401.4 236.3,403.3 237.4,405.0 C238.5,406.7 240.4,408.8 241.0,409.6" fill="none" stroke="#1a1a1a" stroke-width="0.8" />
<path d="M236.6,383.6 C236.9,384.1 237.7,385.6 238.2,386.4 C238.7,387.2 238.8,388.0 239.4,388.6 C240.0,389.2 241.2,389.2 241.8,389.8 C242.4,390.4 242.8,391.6 243.0,392.0" fill="none" stroke="#1a1a1a" stroke-width="0.8" />
<path d="M233.6,413.2 L241,410 L242.8,414.4 M234.6,415 L241.6,412" fill="none" stroke="#1a1a1a" stroke-width="0.8" />
<path d="M241.6,412.0 C241.5,412.5 241.5,414.2 241.0,415.0 C240.5,415.8 239.2,416.0 238.8,416.6 C238.4,417.2 238.3,418.1 238.6,418.4 C238.9,418.7 239.9,418.9 240.6,418.6 C241.3,418.3 242.0,417.1 243.0,416.6 C244.0,416.1 245.5,416.3 246.4,415.8 C247.3,415.3 248.2,414.0 248.6,413.6" fill="none" stroke="#1a1a1a" stroke-width="0.8" />
</g>
<g transform="translate(0.0,0.0)">
<path d="M423.2,344.2 L426.2,337.6 L440.4,328.2 L463.1,316.1 L467.5,318.6 L471.9,323.6 L473.7,326.2 L452,338.6 L436,346.6 C433,348.2 431,348.8 429.6,348.6 C426.6,348 424,346.4 423.2,344.2 Z" fill="#fff" stroke="#111" stroke-width="0.9" />
<path d="M431.2,345.6 C440,341.6 456,333.4 472.5,324.9" fill="none" stroke="#222" stroke-width="0.7" />
<path d="M445.4,339.3 L470.6,324.3" fill="none" stroke="#111" stroke-width="1.0" />
<path d="M426.4,337.8 L440.6,328 C444,329.4 446.4,334 445,339.3 L428.4,344.6 Z" fill="#fff" stroke="#111" stroke-width="0.8" />
<path d="M440.6,328 C444.4,329.6 446.6,334.4 445,339.3" fill="none" stroke="#111" stroke-width="1.3" />
<ellipse cx="427" cy="341.2" rx="2.5" ry="3.4" transform="rotate(-25 427 341.2)" fill="#fff" stroke="#111" stroke-width="1"/>
</g>
<g transform="translate(0.0,0.0)">
<path d="M448.2,366.8 L452.4,361.6 L475,349.2 C484,344 492,340.4 497.5,339.3 C501.4,338.8 504.6,341 504.4,344.3 C504,347.6 500.4,351 495,354.3 L470,367.6 C464,370.8 460.4,372.4 457.5,372.4 C453.6,372.2 449.6,370 448.2,366.8 Z" fill="#fff" stroke="#111" stroke-width="0.9" />
<path d="M456,369 C462,367.6 470,363.6 478,359.4 L494,350.6 C498,348.4 500.6,346 501.3,343.2" fill="none" stroke="#222" stroke-width="0.7" />
<path d="M451.4,362.4 C456,357.6 462,353.4 468,351.6 C478,350 490,345 501.3,343 C497,346.6 488,351.6 478,356.6 C470,360.6 462,365 455.6,368.2 Z" fill="#fff" stroke="#111" stroke-width="0.8" />
<path d="M462,365.4 L478,356.6 L493,348.6" fill="none" stroke="#111" stroke-width="1.0" />
<path d="M468,351.6 C474,352.4 480,352 486,349" fill="none" stroke="#333" stroke-width="0.6" />
<ellipse cx="453.2" cy="365.2" rx="2.5" ry="3.3" transform="rotate(-25 453.2 365.2)" fill="#fff" stroke="#111" stroke-width="1"/>
<path d="M457,367 L462.6,364.6 L461.6,363.4" fill="none" stroke="#222" stroke-width="0.7" />
</g>
<path d="M481.25,314.4 L501.25,302.5 L490,295" fill="none" stroke="#555" stroke-width="0.6" />
<path d="M494,297.7 L490,295" fill="none" stroke="#555" stroke-width="1.5" />
<path d="M509.4,333.75 L530,321.9 L541.25,328.1" fill="none" stroke="#555" stroke-width="0.6" />
<path d="M537.2,325.9 L541.25,328.1" fill="none" stroke="#555" stroke-width="1.5" />
<g transform="translate(-121.3,-70.0)">
<path d="M315.0,485.0 C314.0,484.5 311.3,482.4 309.0,481.8 C306.7,481.2 304.2,480.3 301.2,481.2 C298.3,482.1 294.6,484.6 291.2,487.3 C287.9,490.0 284.1,494.1 281.2,497.5 C278.4,500.9 275.9,504.8 274.4,507.5 C272.9,510.2 272.5,511.7 272.5,513.8 C272.5,515.8 273.1,518.1 274.4,520.0 C275.6,521.9 277.6,523.8 280.0,525.0 C282.4,526.2 285.2,527.3 288.8,527.5 C292.3,527.7 297.1,527.3 301.2,526.2 C305.4,525.2 310.0,523.0 313.8,521.2 C317.5,519.5 321.9,516.5 323.5,515.5 L329,511 L333.5,505 C334.0,504.3 335.9,502.4 336.6,501.0 C337.3,499.6 337.7,498.3 337.6,496.5 C337.5,494.7 336.8,492.1 336.0,490.0 C335.2,487.9 334.0,485.9 332.6,484.0 C331.2,482.1 328.4,479.6 327.5,478.8 Z" fill="#fff" stroke="#111" stroke-width="0.95" />
<path d="M315.0,485.0 C322.0,492.5 326.1,504.5 323.5,515.5" fill="none" stroke="#0a0a0a" stroke-width="1.5" />
<path d="M320.3,482.7 C328.6,489.6 333.4,500.5 329,511" fill="none" stroke="#111" stroke-width="1.1" />
<path d="M306.7,478.5 L325.6,473.3 C327.6,473.4 328.4,476 327.2,477.6 L314.4,485.6 Z" fill="#fff" stroke="#111" stroke-width="0.9" />
<path d="M327.2,477.6 L314.4,485.6" fill="none" stroke="#0a0a0a" stroke-width="1.6" />
<path d="M312.6,476.9 L317.2,483.6 M314.6,476.3 L319.2,482.3" fill="none" stroke="#111" stroke-width="0.9" />
<ellipse cx="307.6" cy="483" rx="6.6" ry="4.1" transform="rotate(-14 307.6 483)" fill="#fff" stroke="#111" stroke-width="1"/>
<path d="M301.4,483 C301.4,486.5 305,488 309,487.4 C312,486.8 314,485.4 314.4,484.6" fill="none" stroke="#0a0a0a" stroke-width="1.9" />
<path d="M307.6,479.8 C311,480.6 312.6,483 312,485.6" fill="none" stroke="#111" stroke-width="0.8" />
</g>
<g transform="translate(0.0,0.0)">
<path d="M315.0,485.0 C314.0,484.5 311.3,482.4 309.0,481.8 C306.7,481.2 304.2,480.3 301.2,481.2 C298.3,482.1 294.6,484.6 291.2,487.3 C287.9,490.0 284.1,494.1 281.2,497.5 C278.4,500.9 275.9,504.8 274.4,507.5 C272.9,510.2 272.5,511.7 272.5,513.8 C272.5,515.8 273.1,518.1 274.4,520.0 C275.6,521.9 277.6,523.8 280.0,525.0 C282.4,526.2 285.2,527.3 288.8,527.5 C292.3,527.7 297.1,527.3 301.2,526.2 C305.4,525.2 310.0,523.0 313.8,521.2 C317.5,519.5 321.9,516.5 323.5,515.5 L329,511 L333.5,505 C334.0,504.3 335.9,502.4 336.6,501.0 C337.3,499.6 337.7,498.3 337.6,496.5 C337.5,494.7 336.8,492.1 336.0,490.0 C335.2,487.9 334.0,485.9 332.6,484.0 C331.2,482.1 328.4,479.6 327.5,478.8 Z" fill="#fff" stroke="#111" stroke-width="0.95" />
<path d="M315.0,485.0 C322.0,492.5 326.1,504.5 323.5,515.5" fill="none" stroke="#0a0a0a" stroke-width="1.5" />
<path d="M320.3,482.7 C328.6,489.6 333.4,500.5 329,511" fill="none" stroke="#111" stroke-width="1.1" />
<path d="M306.7,478.5 L325.6,473.3 C327.6,473.4 328.4,476 327.2,477.6 L314.4,485.6 Z" fill="#fff" stroke="#111" stroke-width="0.9" />
<path d="M327.2,477.6 L314.4,485.6" fill="none" stroke="#0a0a0a" stroke-width="1.6" />
<path d="M312.6,476.9 L317.2,483.6 M314.6,476.3 L319.2,482.3" fill="none" stroke="#111" stroke-width="0.9" />
<ellipse cx="307.6" cy="483" rx="6.6" ry="4.1" transform="rotate(-14 307.6 483)" fill="#fff" stroke="#111" stroke-width="1"/>
<path d="M301.4,483 C301.4,486.5 305,488 309,487.4 C312,486.8 314,485.4 314.4,484.6" fill="none" stroke="#0a0a0a" stroke-width="1.9" />
<path d="M307.6,479.8 C311,480.6 312.6,483 312,485.6" fill="none" stroke="#111" stroke-width="0.8" />
</g>
<g transform="translate(-53.7,-38.0)">
<path d="M316.2,483.6 C314.8,483.7 311.1,483.4 307.8,484.1 C304.5,484.9 300.2,485.9 296.2,488.1 C292.2,490.4 287.0,494.1 283.7,497.8 C280.4,501.4 278.4,506.2 276.4,510.2 C274.4,514.2 272.6,519.8 271.8,521.8 C272.6,522.1 274.3,523.0 276.3,523.6 C278.3,524.3 280.4,525.1 283.7,525.5 C287.0,525.9 292.0,526.4 296.2,526.0 C300.4,525.6 305.2,524.4 308.7,523.4 C312.2,522.3 314.7,521.1 317.3,519.8 C319.9,518.4 323.1,515.9 324.3,515.1 L329,511 L333.5,505 C334.0,504.3 335.9,502.4 336.6,501.0 C337.3,499.6 337.7,498.3 337.6,496.5 C337.5,494.7 336.8,492.1 336.0,490.0 C335.2,487.9 334.0,485.9 332.6,484.0 C331.2,482.1 328.4,479.6 327.5,478.8 Z" fill="#fff" stroke="#111" stroke-width="0.95" />
<path d="M316.2,483.6 C323.2,491.1 326.9,504.1 324.3,515.1" fill="none" stroke="#0a0a0a" stroke-width="1.5" />
<path d="M320.3,482.7 C328.6,489.6 333.4,500.5 329,511" fill="none" stroke="#111" stroke-width="1.1" />
<path d="M306.7,478.5 L325.6,473.3 C327.6,473.4 328.4,476 327.2,477.6 L314.4,485.6 Z" fill="#fff" stroke="#111" stroke-width="0.9" />
<path d="M327.2,477.6 L314.4,485.6" fill="none" stroke="#0a0a0a" stroke-width="1.6" />
<path d="M312.6,476.9 L317.2,483.6 M314.6,476.3 L319.2,482.3" fill="none" stroke="#111" stroke-width="0.9" />
<ellipse cx="307.6" cy="483" rx="6.6" ry="4.1" transform="rotate(-14 307.6 483)" fill="#fff" stroke="#111" stroke-width="1"/>
<path d="M301.4,483 C301.4,486.5 305,488 309,487.4 C312,486.8 314,485.4 314.4,484.6" fill="none" stroke="#0a0a0a" stroke-width="1.9" />
<path d="M307.6,479.8 C311,480.6 312.6,483 312,485.6" fill="none" stroke="#111" stroke-width="0.8" />
</g>
<g transform="translate(29.7,-86.8)">
<path d="M316.2,483.6 C314.8,483.7 311.1,483.4 307.8,484.1 C304.5,484.9 300.2,485.9 296.2,488.1 C292.2,490.4 287.0,494.1 283.7,497.8 C280.4,501.4 278.4,506.2 276.4,510.2 C274.4,514.2 272.6,519.8 271.8,521.8 C272.6,522.1 274.3,523.0 276.3,523.6 C278.3,524.3 280.4,525.1 283.7,525.5 C287.0,525.9 292.0,526.4 296.2,526.0 C300.4,525.6 305.2,524.4 308.7,523.4 C312.2,522.3 314.7,521.1 317.3,519.8 C319.9,518.4 323.1,515.9 324.3,515.1 L329,511 L333.5,505 C334.0,504.3 335.9,502.4 336.6,501.0 C337.3,499.6 337.7,498.3 337.6,496.5 C337.5,494.7 336.8,492.1 336.0,490.0 C335.2,487.9 334.0,485.9 332.6,484.0 C331.2,482.1 328.4,479.6 327.5,478.8 Z" fill="#fff" stroke="#111" stroke-width="0.95" />
<path d="M316.2,483.6 C323.2,491.1 326.9,504.1 324.3,515.1" fill="none" stroke="#0a0a0a" stroke-width="1.5" />
<path d="M320.3,482.7 C328.6,489.6 333.4,500.5 329,511" fill="none" stroke="#111" stroke-width="1.1" />
<path d="M306.7,478.5 L325.6,473.3 C327.6,473.4 328.4,476 327.2,477.6 L314.4,485.6 Z" fill="#fff" stroke="#111" stroke-width="0.9" />
<path d="M327.2,477.6 L314.4,485.6" fill="none" stroke="#0a0a0a" stroke-width="1.6" />
<path d="M312.6,476.9 L317.2,483.6 M314.6,476.3 L319.2,482.3" fill="none" stroke="#111" stroke-width="0.9" />
<ellipse cx="307.6" cy="483" rx="6.6" ry="4.1" transform="rotate(-14 307.6 483)" fill="#fff" stroke="#111" stroke-width="1"/>
<path d="M301.4,483 C301.4,486.5 305,488 309,487.4 C312,486.8 314,485.4 314.4,484.6" fill="none" stroke="#0a0a0a" stroke-width="1.9" />
<path d="M307.6,479.8 C311,480.6 312.6,483 312,485.6" fill="none" stroke="#111" stroke-width="0.8" />
</g>
<g transform="translate(0.0,0.0)">
<path d="M623.0,157.0 C624.7,156.6 629.7,154.6 633.0,154.3 C636.3,154.0 640.0,153.8 643.0,155.0 C646.0,156.2 649.1,159.0 651.0,161.5 C652.9,164.0 654.0,167.2 654.2,170.0 C654.4,172.8 653.2,175.6 652.0,178.0 C650.8,180.4 648.9,182.4 647.0,184.5 C645.1,186.6 642.3,189.2 640.5,190.5 C638.7,191.8 636.8,192.2 636.0,192.6" fill="#fff" stroke="#111" stroke-width="0.9" />
<path d="M643,155 C648,158 651.4,163 652.2,168.5 C652.6,172 652.4,175 651.8,177.6" fill="none" stroke="#111" stroke-width="0.8" />
<ellipse cx="630" cy="174.8" rx="11.2" ry="20" transform="rotate(-30 630 174.8)" fill="#fff" stroke="#111" stroke-width="0.9"/>
</g>
<g transform="translate(121.5,69.5)">
<path d="M623.0,157.0 C624.7,156.6 629.7,154.6 633.0,154.3 C636.3,154.0 640.0,153.8 643.0,155.0 C646.0,156.2 649.1,159.0 651.0,161.5 C652.9,164.0 654.0,167.2 654.2,170.0 C654.4,172.8 653.2,175.6 652.0,178.0 C650.8,180.4 648.9,182.4 647.0,184.5 C645.1,186.6 642.3,189.2 640.5,190.5 C638.7,191.8 636.8,192.2 636.0,192.6" fill="#fff" stroke="#111" stroke-width="0.9" />
<path d="M643,155 C648,158 651.4,163 652.2,168.5 C652.6,172 652.4,175 651.8,177.6" fill="none" stroke="#111" stroke-width="0.8" />
<ellipse cx="630" cy="174.8" rx="11.2" ry="20" transform="rotate(-30 630 174.8)" fill="#fff" stroke="#111" stroke-width="0.9"/>
</g>
<path transform="translate(635.7,204.7) rotate(145.8)" d="M0,-2.0 L11.5,-2.0 L10.3,-3.9 L26.8,0 L10.3,3.9 L11.5,2.0 L0,2.0 Z" fill="#fff" stroke="#333" stroke-width="0.7"/>
<path transform="translate(750.7,284.3) rotate(146.2)" d="M0,-2.0 L11.2,-2.0 L10.0,-3.9 L26.5,0 L10.0,3.9 L11.2,2.0 L0,2.0 Z" fill="#fff" stroke="#333" stroke-width="0.7"/>
<path transform="translate(689.3,352.4) rotate(-124.8)" d="M0,-2.0 L10.3,-2.0 L9.1,-3.9 L25.6,0 L9.1,3.9 L10.3,2.0 L0,2.0 Z" fill="#fff" stroke="#333" stroke-width="0.7"/>
<path transform="translate(194.7,392.5) rotate(-31.2)" d="M0,-2.0 L10.8,-2.0 L9.6,-3.9 L26.1,0 L9.6,3.9 L10.8,2.0 L0,2.0 Z" fill="#fff" stroke="#333" stroke-width="0.7"/>
<path transform="translate(517.0,170.7) rotate(57.0)" d="M0,-2.0 L11.3,-2.0 L10.1,-3.9 L26.6,0 L10.1,3.9 L11.3,2.0 L0,2.0 Z" fill="#fff" stroke="#333" stroke-width="0.7"/>
<path transform="translate(344.3,519.1) rotate(-33.6)" d="M0,-2.0 L10.9,-2.0 L9.7,-3.9 L26.2,0 L9.7,3.9 L10.9,2.0 L0,2.0 Z" fill="#fff" stroke="#333" stroke-width="0.7"/>
<path d="M505.6,167 C503,164.6 504.6,160.6 509.6,158.8 C513.6,157.4 517,157.4 517.4,158.6 C517.6,160.6 512,165 507.4,167.2 Z" fill="#fff" stroke="#111" stroke-width="0.9" />
<path d="M505.8,166.8 C503.4,164.6 504.8,160.8 509.4,159 C506.6,161.6 506,164.4 506.8,166.6 Z" fill="#111" stroke="#111" stroke-width="1.2" />
<ellipse cx="698.2" cy="362.6" rx="6.6" ry="3.8" transform="rotate(-30 698.2 362.6)" fill="#fff" stroke="#111" stroke-width="1.3"/>
<path d="M693.6,366.2 C692,363.6 694,360 698,358.6 C696,361 695.4,364 696.4,366.4 Z" fill="#222" stroke="#111" stroke-width="0.8" />
<path d="M697.6,359.6 L699.4,365.6" fill="none" stroke="#333" stroke-width="0.6" />
<path d="M424,208 L424,215.5 L396.5,231.4 L397.2,233.6 L384.5,233.5 L393.3,221.6 L394.6,224.6 Z" fill="#b3b3b3" stroke="#555" stroke-width="0.7" />
<text transform="matrix(0.866,-0.5,0,1,399.4,215.8) translate(0.00,0.00) scale(0.7835,1)" font-size="18.6" font-weight="normal" fill="#111" xml:space="preserve">НП</text>
<text transform="matrix(0.866,-0.5,0,1,403,246) translate(0.00,0.00) scale(0.8085,1)" font-size="18" font-weight="normal" fill="#111" xml:space="preserve">FD</text>
<g opacity="0.51" transform="translate(226.6,203.5) rotate(32.65)">
<text transform="scale(1.085,0.87)" font-size="52" font-weight="normal" fill="#000">m</text>
<text id="wm" transform="scale(1,0.87)" x="48.6 62.8 78.6 108 133.6 147" font-size="52" letter-spacing="1.4" font-weight="normal" fill="#000">iracle-world.ru</text>
<rect x="137.08" y="-37.2" width="4.6" height="5" fill="#000"/>
<rect x="287.03" y="-37.2" width="4.6" height="5" fill="#000"/>
<rect x="317.35" y="-37.2" width="4.6" height="5" fill="#000"/>
</g>
</svg>
</body></html>
